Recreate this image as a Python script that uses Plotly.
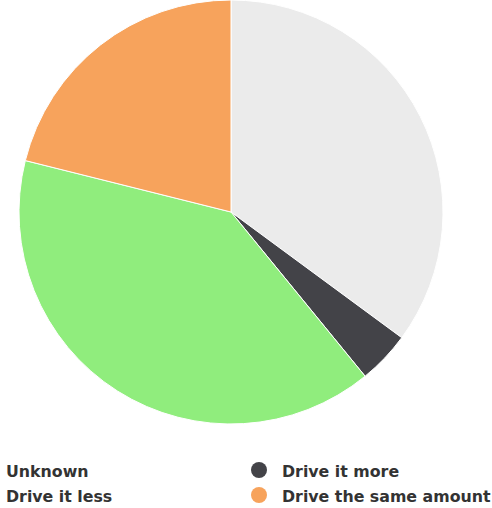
import plotly.graph_objects as go

categories = ["Unknown", "Drive it more", "Drive it less", "Drive the same amount"]
values = [35.1, 4.0, 39.8, 21.1]
colors = ["#ebebeb", "#434348", "#90ed7d", "#f7a35c"]

W, H = 492, 508
fig = go.Figure(go.Pie(
    labels=categories,
    values=values,
    sort=False,
    direction="clockwise",
    rotation=0,
    marker=dict(colors=colors, line=dict(color="#ffffff", width=1)),
    textinfo="none",
    hoverinfo="label+percent",
    domain=dict(x=[19 / W, 443 / W], y=[1 - 424 / H, 1.0]),
    showlegend=False,
))

font = dict(family="DejaVu Sans, sans-serif", size=15.8, color="#333333")
legend_items = [
    (categories[0], None, 5, 471),
    (categories[1], colors[1], 281, 471),
    (categories[2], None, 5, 496),
    (categories[3], colors[3], 281, 496),
]
for name, col, x, y in legend_items:
    fig.add_annotation(
        x=x / W, y=1 - y / H, xref="paper", yref="paper",
        text="<b>%s</b>" % name, showarrow=False,
        xanchor="left", yanchor="middle", font=font,
        xshift=-1,
    )
    if col:
        cx = 259 / W
        cy = 1 - (y - 1) / H
        rx, ry = 8 / W, 8 / H
        fig.add_shape(type="circle", xref="paper", yref="paper",
                      x0=cx - rx, x1=cx + rx, y0=cy - ry, y1=cy + ry,
                      fillcolor=col, line=dict(width=0))

fig.update_layout(
    width=W, height=H,
    margin=dict(l=0, r=0, t=0, b=0),
    paper_bgcolor="#ffffff",
    plot_bgcolor="#ffffff",
)
fig.write_html(
    "out.html",
    config={"displayModeBar": False},
    post_script="document.body.style.margin='0';document.body.style.overflow='hidden';",
)
